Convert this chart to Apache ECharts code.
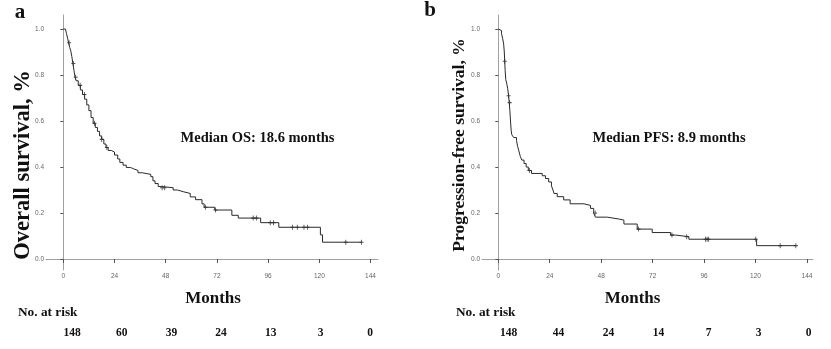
<!DOCTYPE html>
<html><head><meta charset="utf-8">
<script src="https://cdn.jsdelivr.net/npm/echarts@6/dist/echarts.min.js"></script>
<style>html,body{margin:0;padding:0;background:#fff}#c{width:831px;height:349px}</style>
</head><body><div id="c"></div>
<script>
// ---- data ----
const xTicks = [0, 24, 48, 72, 96, 120, 144];
const yTicks = [0, 0.2, 0.4, 0.6, 0.8, 1.0];

const osTimes = [0, 1.0, 1.5, 2.0, 2.5, 3.0, 3.5, 4.0, 4.5, 5.0, 5.5, 6.0, 7.0, 8.0, 9.0, 10.0, 11.0, 12.0, 13.0, 14.0, 15.0, 16.0, 17.0, 18.0, 19.0, 20.0, 21.0, 22.5, 24.0, 25.5, 26.5, 28.0, 29.5, 31.5, 33.0, 35.0, 37.0, 41.0, 42.0, 43.0, 44.5, 46.0, 51.5, 53.5, 56.5, 59.5, 62.0, 65.0, 66.0, 71.0, 79.0, 82.0, 92.5, 101.0, 120.5, 121.5, 139.8];
const osSurv  = [1.0, 0.993, 0.98, 0.96, 0.94, 0.92, 0.905, 0.88, 0.85, 0.82, 0.79, 0.775, 0.755, 0.735, 0.715, 0.695, 0.67, 0.645, 0.615, 0.59, 0.572, 0.555, 0.535, 0.52, 0.50, 0.485, 0.472, 0.465, 0.452, 0.435, 0.42, 0.408, 0.398, 0.392, 0.385, 0.375, 0.368, 0.358, 0.34, 0.328, 0.315, 0.31, 0.30, 0.292, 0.285, 0.27, 0.258, 0.24, 0.225, 0.213, 0.19, 0.178, 0.158, 0.138, 0.105, 0.073, 0.073];
const osCensor = [2.7, 4.7, 5.8, 7.9, 9.9, 14.6, 18, 20.4, 46.3, 47.5, 66.6, 71.3, 89, 90.5, 97, 98.5, 107.4, 109.7, 112.8, 114.5, 132.4, 139.8];

const pfsTimes = [0, 0.8, 1.5, 2.0, 2.5, 2.8, 3.0, 3.2, 3.5, 4.0, 4.4, 4.8, 5.1, 5.4, 5.7, 6.0, 6.3, 7.2, 8.5, 9.0, 9.6, 10.3, 11.0, 12.0, 13.0, 14.0, 15.5, 20.5, 22.0, 23.5, 24.8, 25.5, 26.0, 27.5, 30.5, 33.5, 40.0, 43.0, 44.5, 45.3, 50.8, 56.2, 58.6, 64.8, 71.8, 80.4, 82.7, 88.9, 120.5, 138.8];
const pfsSurv  = [1.0, 0.993, 0.98, 0.96, 0.935, 0.90, 0.86, 0.82, 0.78, 0.76, 0.74, 0.71, 0.68, 0.645, 0.60, 0.56, 0.54, 0.528, 0.515, 0.49, 0.47, 0.445, 0.43, 0.415, 0.40, 0.385, 0.372, 0.362, 0.35, 0.335, 0.318, 0.30, 0.285, 0.271, 0.257, 0.24, 0.233, 0.22, 0.20, 0.182, 0.174, 0.169, 0.152, 0.13, 0.115, 0.104, 0.097, 0.086, 0.058, 0.058];
const pfsCensor = [3.0, 4.8, 5.3, 14.5, 45.2, 65.4, 81, 87.9, 96.7, 97.4, 98.1, 120.1, 131.5, 138.8];

const riskMonths = [0, 24, 48, 72, 96, 120, 144];
const osRisk  = [148, 60, 39, 24, 13, 3, 0];
const pfsRisk = [148, 44, 24, 14, 7, 3, 0];

// ---- helpers ----
function survAt(times, surv, t) {
  let s = surv[0];
  for (let i = 0; i < times.length; i++) { if (times[i] <= t) s = surv[i]; }
  return s;
}
const SERIF = "'Liberation Serif','Times New Roman',serif";
const SANS = "'Liberation Sans',Arial,sans-serif";
const INK = '#2a2a2a';

function xAxis(gi, min, max) {
  return {
    type: 'value', gridIndex: gi, min: min, max: max,
    axisLine: { show: true, lineStyle: { color: '#a0a0a0', width: 1 } },
    axisTick: { show: true, length: 4, customValues: xTicks, lineStyle: { color: '#555' } },
    axisLabel: { customValues: xTicks, fontSize: 6.5, color: '#666', margin: 3, fontFamily: SANS },
    splitLine: { show: false }
  };
}
function yAxis(gi, min, max) {
  return {
    type: 'value', gridIndex: gi, min: min, max: max,
    axisLine: { show: true, lineStyle: { color: '#a0a0a0', width: 1 } },
    axisTick: { show: true, length: 3, customValues: yTicks, lineStyle: { color: '#555' } },
    axisLabel: { customValues: yTicks, fontSize: 6.5, color: '#666', margin: 2, fontFamily: SANS,
      formatter: v => v.toFixed(1) },
    splitLine: { show: false }
  };
}
function curve(times, surv, idx) {
  return {
    type: 'line', xAxisIndex: idx, yAxisIndex: idx, step: 'end', showSymbol: false,
    lineStyle: { color: INK, width: 1 }, silent: true,
    data: times.map((t, i) => [t, surv[i]])
  };
}
function censor(times, surv, cens, idx) {
  return {
    type: 'scatter', xAxisIndex: idx, yAxisIndex: idx,
    symbol: 'path://M5,0L5,10M0,5L10,5', symbolSize: [4, 5],
    itemStyle: { color: 'transparent', borderColor: INK, borderWidth: 1 },
    data: cens.map(t => [t, survAt(times, surv, t)])
  };
}
function txt(x, y, text, size, opts, align) {
  return Object.assign({
    type: 'text', x: x, y: y,
    style: { text: text, fontSize: size, fontWeight: 'bold', fontFamily: SERIF, fill: '#111',
      align: align || 'center', verticalAlign: 'middle' }
  }, opts || {});
}

const chart = echarts.init(document.getElementById('c'), null, { renderer: 'canvas' });
chart.setOption({
  backgroundColor: '#fff',
  animation: false,
  grid: [
    { left: 46, top: 15, width: 332, height: 255 },
    { left: 482, top: 15, width: 331, height: 255 }
  ],
  xAxis: [xAxis(0, -8.11, 147.5), xAxis(1, -7.6, 146.8)],
  yAxis: [yAxis(0, -0.0478, 1.0609), yAxis(1, -0.0478, 1.0609)],
  series: [
    curve(osTimes, osSurv, 0), censor(osTimes, osSurv, osCensor, 0),
    curve(pfsTimes, pfsSurv, 1), censor(pfsTimes, pfsSurv, pfsCensor, 1)
  ]
});

// texts
const g = [];
g.push(txt(20, 13, 'a', 21));
g.push(txt(430, 11, 'b', 21));
g.push(txt(23, 165, 'Overall survival, %', 22.5, { rotation: Math.PI / 2 }));
g.push(txt(459, 145, 'Progression-free survival, %', 17.5, { rotation: Math.PI / 2 }));
g.push(txt(257.5, 138, 'Median OS: 18.6 months', 14.5));
g.push(txt(669, 138, 'Median PFS: 8.9 months', 14.5));
g.push(txt(213, 299, 'Months', 17));
g.push(txt(632.5, 299, 'Months', 17));
g.push(txt(18, 313, 'No. at risk', 13.3, null, 'left'));
g.push(txt(456, 313, 'No. at risk', 13.3, null, 'left'));
const riskA = { start: 72, step: 49.7 }, riskB = { start: 508.5, step: 50 };
riskMonths.forEach((m, i) => {
  g.push(txt(riskA.start + i * riskA.step, 333, String(osRisk[i]), 11.5));
  g.push(txt(riskB.start + i * riskB.step, 333, String(pfsRisk[i]), 11.5));
});
chart.setOption({ graphic: g });
</script>
</body></html>
